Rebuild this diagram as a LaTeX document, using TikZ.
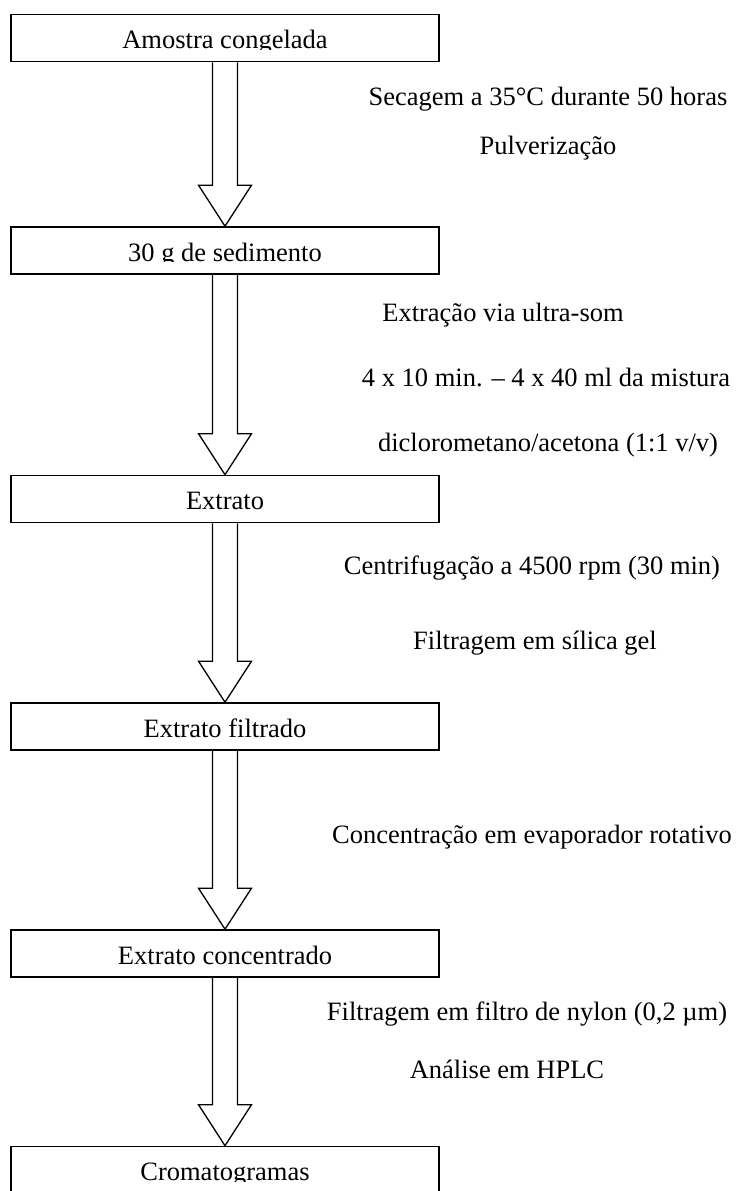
\documentclass[tikz,border=0pt]{standalone}
\usepackage{fontspec}
\setmainfont{Liberation Serif}
\usetikzlibrary{calc}

% hollow block arrow from one stage to the next
\newcommand{\blockarrow}[2]{%
  \draw[arrowline] ($(#1.south)+(-12.5,0)$) -- ($(#2.north)+(-12.5,-41)$)
    -- ($(#2.north)+(-26.5,-41)$) -- (#2.north) -- ($(#2.north)+(26.5,-41)$)
    -- ($(#2.north)+(12.5,-41)$) -- ($(#1.south)+(12.5,0)$);}

\begin{document}
\begin{tikzpicture}[x=1pt,y=-1pt,
    stage/.style={draw,line width=1.6pt,minimum width=428pt,minimum height=47pt,inner sep=0pt},
    stagetext/.style={anchor=base,inner sep=0pt,font=\fontsize{26.5}{30}\selectfont},
    note/.style={anchor=base,inner sep=0pt,font=\fontsize{26.5}{30}\selectfont},
    arrowline/.style={line width=1.3pt,line join=miter}]
    \useasboundingbox (0,0) rectangle (737,1191);

    % Stages
    \node[stage] (sample) at (225,38) {};
    \node[stage] (sediment) at (225,250.5) {};
    \node[stage] (extract) at (225,499) {};
    \node[stage] (filtered) at (225,726.5) {};
    \node[stage] (concentrated) at (225,953.5) {};
    \node[stage] (chromato) at (225,1170) {};

    % Stage texts (cut off at the bottom as in the original)
    \begin{scope}
        \clip (sample.north west) rectangle ($(sample.north east)+(0,36)$);
        \node[stagetext] (sampletxt) at ($(sample.north)+(0,35)$) {Amostra congelada};
    \end{scope}
    \begin{scope}
        \clip (sediment.north west) rectangle ($(sediment.north east)+(0,35)$);
        \node[stagetext] (sedimenttxt) at ($(sediment.north)+(0,35)$) {30 g de sedimento};
    \end{scope}
    \node[stagetext] (extracttxt) at ($(extract.north)+(0,35)$) {Extrato};
    \node[stagetext] (filteredtxt) at ($(filtered.north)+(0,35)$) {Extrato filtrado};
    \node[stagetext] (concentratedtxt) at ($(concentrated.north)+(0,35)$) {Extrato concentrado};
    \begin{scope}
        \clip (chromato.north west) rectangle ($(chromato.north east)+(0,36)$);
        \node[stagetext] (chromatotxt) at ($(chromato.north)+(0,35)$) {Cromatogramas};
    \end{scope}

    % Arrows
    \blockarrow{sample}{sediment}
    \blockarrow{sediment}{extract}
    \blockarrow{extract}{filtered}
    \blockarrow{filtered}{concentrated}
    \blockarrow{concentrated}{chromato}

    % Treatments
    \node[note] (drying) at (548,105) {Secagem a 35°C durante 50 horas};
    \node[note] (grinding) at (548,154) {Pulverização};
    \node[note] (ultrasound) at (503,321) {Extração via ultra-som};
    \node[note] (cycles) at (546,386) {4 x 10 min. – 4 x 40 ml da mistura};
    \node[note] (solvent) at (548,451) {diclorometano/acetona (1:1 v/v)};
    \node[note] (centrifuge) at (532,574) {Centrifugação a 4500 rpm (30 min)};
    \node[note] (silica) at (535,649) {Filtragem em sílica gel};
    \node[note] (rotavap) at (532,843) {Concentração em evaporador rotativo};
    \node[note] (nylon) at (527,1020) {Filtragem em filtro de nylon (0,2 µm)};
    \node[note] (hplc) at (507,1078) {Análise em HPLC};
\end{tikzpicture}
\end{document}
